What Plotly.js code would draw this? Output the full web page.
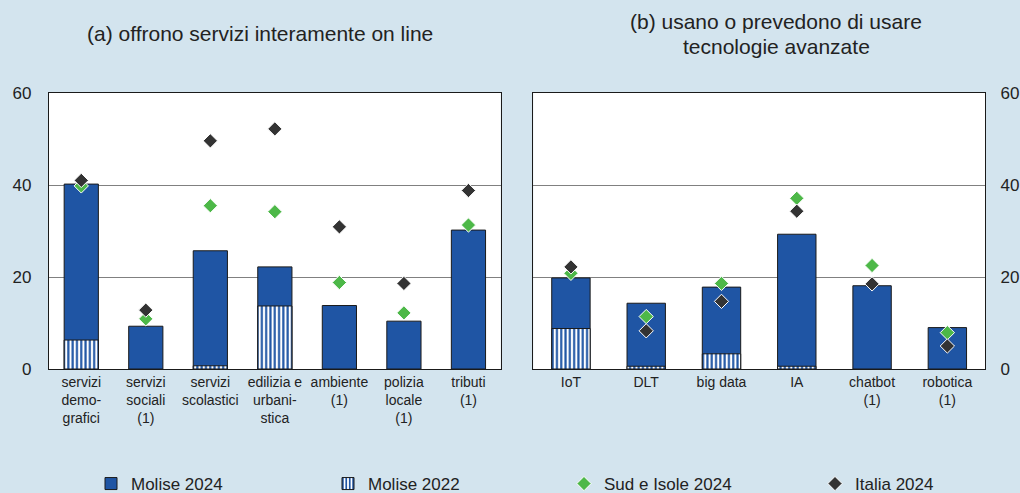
<!DOCTYPE html>
<html>
<head>
<meta charset="utf-8">
<script src="https://cdn.plot.ly/plotly-3.0.1.min.js"></script>
<style>
  html, body { margin: 0; padding: 0; background: #d3e4ee; }
  #chart { width: 1020px; height: 493px; }
</style>
</head>
<body>
<div id="chart"></div>
<script>
// Panel (a): offrono servizi interamente on line
const catsA = ["servizi<br>demo-<br>grafici", "servizi<br>sociali<br>(1)", "servizi<br>scolastici", "edilizia e<br>urbani-<br>stica", "ambiente<br>(1)", "polizia<br>locale<br>(1)", "tributi<br>(1)"];
const molise2024A = [40.2, 9.3, 25.7, 22.2, 13.8, 10.4, 30.2];
const molise2022A = [6.3, null, 0.7, 13.7, null, null, null];
const sud2024A = [39.8, 10.9, 35.5, 34.2, 18.8, 12.2, 31.3];
const italia2024A = [41.0, 12.8, 49.6, 52.2, 30.9, 18.6, 38.8];

// Panel (b): usano o prevedono di usare tecnologie avanzate
const catsB = ["IoT", "DLT", "big data", "IA", "chatbot<br>(1)", "robotica<br>(1)"];
const molise2024B = [19.8, 14.3, 17.8, 29.3, 18.1, 9.0];
const molise2022B = [8.8, 0.6, 3.3, 0.6, null, null];
const sud2024B = [20.8, 11.4, 18.6, 37.1, 22.5, 7.9];
const italia2024B = [22.2, 8.3, 14.7, 34.3, 18.5, 5.0];

const seriesNames = ["Molise 2024", "Molise 2022", "Sud e Isole 2024", "Italia 2024"];
const titleA = "(a) offrono servizi interamente on line";
const titleB1 = "(b) usano o prevedono di usare";
const titleB2 = "tecnologie avanzate";

const BLUE = "#1f55a4";
const GREEN = "#4db848";
const DARK = "#333333";
const EDGE = "#1a1a1a";
const FONT = "Liberation Sans, Arial, sans-serif";

function panelTraces(cats, m24, m22, sud, ita, xa, ya, showLeg, width) {
  return [
    {type: "bar", x: cats, y: m24, xaxis: xa, yaxis: ya, name: seriesNames[0],
     legendgroup: "m24", showlegend: showLeg, width: width, legendwidth: 192,
     marker: {color: BLUE, line: {color: EDGE, width: 1}}, hoverinfo: "skip"},
    {type: "bar", x: cats, y: m22, xaxis: xa, yaxis: ya, name: seriesNames[1],
     legendgroup: "m22", showlegend: showLeg, width: width, legendwidth: 191,
     marker: {color: "#ffffff", line: {color: EDGE, width: 1},
              pattern: {shape: "|", bgcolor: "#ffffff", fgcolor: BLUE, size: 4.3, solidity: 0.5}},
     hoverinfo: "skip"},
    {type: "scatter", mode: "markers", x: cats, y: sud, xaxis: xa, yaxis: ya, name: seriesNames[2],
     legendgroup: "sud", showlegend: showLeg, legendwidth: 206,
     marker: {symbol: "diamond", size: 11, color: GREEN, line: {color: "#ffffff", width: 1}}, hoverinfo: "skip"},
    {type: "scatter", mode: "markers", x: cats, y: ita, xaxis: xa, yaxis: ya, name: seriesNames[3],
     legendgroup: "ita", showlegend: showLeg, legendwidth: 90,
     marker: {symbol: "diamond", size: 11, color: DARK, line: {color: "#ffffff", width: 1}}, hoverinfo: "skip"}
  ];
}

const data = [
  ...panelTraces(catsA, molise2024A, molise2022A, sud2024A, italia2024A, "x", "y", true, 0.53),
  ...panelTraces(catsB, molise2024B, molise2022B, sud2024B, italia2024B, "x2", "y2", false, 0.51)
];

const xBase = {
  type: "category", showgrid: false, zeroline: false,
  showline: true, linecolor: EDGE, linewidth: 1.2, mirror: true,
  ticks: "", tickfont: {family: FONT, size: 14, color: "#222"}, fixedrange: true
};
const yBase = {
  range: [0, 60], tickvals: [0, 20, 40, 60], showgrid: true, gridcolor: "#808080", gridwidth: 1,
  zeroline: false, showline: true, linecolor: EDGE, linewidth: 1.2, mirror: true,
  ticks: "", tickfont: {family: FONT, size: 17, color: "#222"}, fixedrange: true
};

const layout = {
  width: 1020, height: 493,
  paper_bgcolor: "#d3e4ee", plot_bgcolor: "#ffffff",
  margin: {l: 49, r: 35, t: 93, b: 124},
  barmode: "overlay",
  showlegend: true,
  font: {family: FONT, color: "#222"},
  xaxis: Object.assign({}, xBase, {domain: [0, 0.4826], anchor: "y"}),
  xaxis2: Object.assign({}, xBase, {domain: [0.5174, 1], anchor: "y2"}),
  yaxis: Object.assign({}, yBase, {anchor: "x", side: "left", ticklabelstandoff: 13}),
  yaxis2: Object.assign({}, yBase, {anchor: "x2", side: "right", ticklabelstandoff: 11}),
  legend: {
    orientation: "h", xref: "container", yref: "container",
    x: 91 / 1020, xanchor: "left", y: 1 - 484 / 493, yanchor: "middle",
    entrywidthmode: "pixels",
    font: {family: FONT, size: 17, color: "#222"}, bgcolor: "rgba(0,0,0,0)",
    traceorder: "normal"
  },
  annotations: [
    {text: titleA, xref: "paper", yref: "paper", x: (260 - 49) / 936, y: 1 + (93 - 34) / 276,
     xanchor: "center", yanchor: "middle", showarrow: false, font: {family: FONT, size: 21, color: "#222"}},
    {text: titleB1, xref: "paper", yref: "paper", x: (776 - 49) / 936, y: 1 + (93 - 22) / 276,
     xanchor: "center", yanchor: "middle", showarrow: false, font: {family: FONT, size: 21, color: "#222"}},
    {text: titleB2, xref: "paper", yref: "paper", x: (776 - 49) / 936, y: 1 + (93 - 47) / 276,
     xanchor: "center", yanchor: "middle", showarrow: false, font: {family: FONT, size: 21, color: "#222"}}
  ]
};

Plotly.newPlot("chart", data, layout, {displayModeBar: false, staticPlot: true});
</script>
</body>
</html>
